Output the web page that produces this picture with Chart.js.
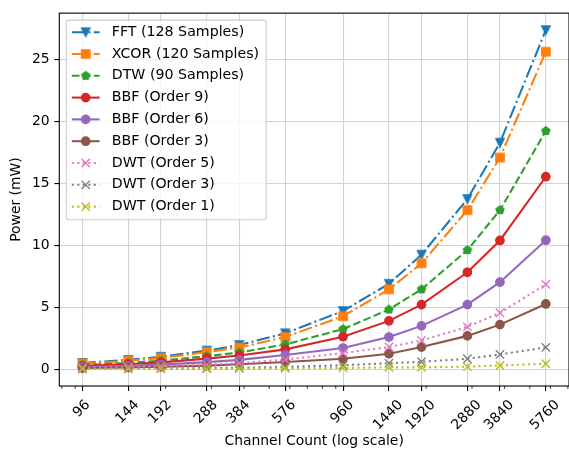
<!DOCTYPE html>
<html>
<head>
<meta charset="utf-8">
<title>Power vs Channel Count</title>
<script src="https://cdn.jsdelivr.net/npm/chart.js@4.4.1/dist/chart.umd.min.js"></script>
<style>
    html, body { margin: 0; padding: 0; background: #fff; overflow: hidden; }
    #powerChart { display: block; width: 569px; height: 454px; }
</style>
</head>
<body>
<canvas id="powerChart" width="569" height="454"></canvas>
<script>
// ==========================================
// Data
// ==========================================
const channels = [96, 144, 192, 288, 384, 576, 960, 1440, 1920, 2880, 3840, 5760];

const fftPower  = [0.50, 0.75, 1.00, 1.50, 1.95, 2.90, 4.70, 6.90, 9.25, 13.75, 18.30, 27.40];
const xcorPower = [0.45, 0.68, 0.90, 1.38, 1.75, 2.60, 4.28, 6.45, 8.55, 12.85, 17.10, 25.65];
const dtwPower  = [0.33, 0.50, 0.68, 1.05, 1.35, 2.00, 3.24, 4.82, 6.45, 9.62, 12.85, 19.25];
const bbf9Power = [0.27, 0.40, 0.55, 0.85, 1.10, 1.60, 2.62, 3.90, 5.22, 7.83, 10.40, 15.55];
const bbf6Power = [0.18, 0.27, 0.37, 0.57, 0.75, 1.15, 1.71, 2.60, 3.50, 5.22, 7.03, 10.42];
const bbf3Power = [0.09, 0.14, 0.19, 0.29, 0.40, 0.58, 0.84, 1.25, 1.79, 2.69, 3.60, 5.27];
const dwt5Power = [0.12, 0.18, 0.24, 0.36, 0.48, 0.78, 1.30, 1.79, 2.32, 3.42, 4.55, 6.85];
const dwt3Power = [0.03, 0.05, 0.06, 0.09, 0.12, 0.18, 0.32, 0.48, 0.60, 0.84, 1.19, 1.76];
const dwt1Power = [0.01, 0.01, 0.02, 0.03, 0.04, 0.06, 0.10, 0.14, 0.15, 0.20, 0.30, 0.44];

const xTickValues = channels;
const xMinorTicks = [80, 90, 200, 300, 400, 500, 600, 700, 800, 900, 2000, 3000, 4000, 5000, 6000, 7000];
const yTickValues = [0, 5, 10, 15, 20, 25];

// ==========================================
// Styles
// ==========================================
const FONT = 'DejaVu Sans';
const FS = 13.9;
const LEG_FS = 14.2;
const LW = 2.08;
const gridColor = '#d2d2d2';
const dashDot = [13.3, 3.3, 2.1, 3.3];
const dashed = [7.7, 3.3];
const dotted = [2.1, 3.4];

// marker drawn on a small canvas (used for shapes chart.js lacks)
function polyMarker(color, pts) {
    const size = 14;
    const c = document.createElement('canvas');
    c.width = size; c.height = size;
    const g = c.getContext('2d');
    g.beginPath();
    pts.forEach((p, k) => k ? g.lineTo(size / 2 + p[0], size / 2 + p[1]) : g.moveTo(size / 2 + p[0], size / 2 + p[1]));
    g.closePath();
    g.fillStyle = color; g.fill();
    g.strokeStyle = color; g.lineWidth = 1.39; g.lineJoin = 'miter'; g.stroke();
    return c;
}
const mr = 4.17;
const triDown = polyMarker('#1f77b4', [[0, mr], [-mr, -mr], [mr, -mr]]);
const square = polyMarker('#ff7f0e', [[-mr, -mr], [mr, -mr], [mr, mr], [-mr, mr]]);
const pentagon = polyMarker('#2ca02c', [0, 1, 2, 3, 4].map(k => {
    const a = -Math.PI / 2 + k * 2 * Math.PI / 5;
    return [mr * Math.cos(a), mr * Math.sin(a)];
}));

const series = [
    { label: 'FFT (128 Samples)',  data: fftPower,  color: '#1f77b4', dash: dashDot, marker: triDown,   radius: 5 },
    { label: 'XCOR (120 Samples)', data: xcorPower, color: '#ff7f0e', dash: dashDot, marker: square,    radius: 5 },
    { label: 'DTW (90 Samples)',   data: dtwPower,  color: '#2ca02c', dash: dashed,  marker: pentagon,  radius: 5 },
    { label: 'BBF (Order 9)',      data: bbf9Power, color: '#d62728', dash: [],      marker: 'circle',  radius: 4.17 },
    { label: 'BBF (Order 6)',      data: bbf6Power, color: '#9467bd', dash: [],      marker: 'circle',  radius: 4.17 },
    { label: 'BBF (Order 3)',      data: bbf3Power, color: '#8c564b', dash: [],      marker: 'circle',  radius: 4.17 },
    { label: 'DWT (Order 5)',      data: dwt5Power, color: '#e377c2', dash: dotted,  marker: 'crossRot', radius: 5.9 },
    { label: 'DWT (Order 3)',      data: dwt3Power, color: '#7f7f7f', dash: dotted,  marker: 'crossRot', radius: 5.9 },
    { label: 'DWT (Order 1)',      data: dwt1Power, color: '#bcbd22', dash: dotted,  marker: 'crossRot', radius: 5.9 }
];

// axis ranges with 5% margins like matplotlib
const logLo = Math.log10(Math.min(...channels));
const logHi = Math.log10(Math.max(...channels));
const xPad = 0.05 * (logHi - logLo);
const xMin = Math.pow(10, logLo - xPad);
const xMax = Math.pow(10, logHi + xPad);

const allVals = series.flatMap(s => s.data);
const yLo = Math.min(...allVals), yHi = Math.max(...allVals);
const yPad = 0.05 * (yHi - yLo);

// ==========================================
// Plugin: spines, minor ticks, centered rotated x labels, legend
// ==========================================
const extrasPlugin = {
    id: 'extras',
    afterDatasetsDraw(chart) {
        const { ctx, chartArea: a } = chart;
        ctx.save();
        ctx.strokeStyle = '#000';
        ctx.lineWidth = 1.1;
        ctx.strokeRect(a.left, a.top, a.right - a.left, a.bottom - a.top);
        ctx.restore();
    },
    afterDraw(chart) {
        const { ctx, chartArea: a } = chart;
        const xs = chart.scales.x;
        ctx.save();

        // minor ticks
        ctx.strokeStyle = '#000';
        ctx.lineWidth = 0.8;
        xMinorTicks.forEach(v => {
            if (v < xMin || v > xMax) return;
            const px = xs.getPixelForValue(v);
            ctx.beginPath();
            ctx.moveTo(px, a.bottom);
            ctx.lineTo(px, a.bottom + 2.8);
            ctx.stroke();
        });

        // x tick labels, rotated 45 and centred on the tick
        ctx.font = FS + 'px "' + FONT + '"';
        ctx.fillStyle = '#000';
        ctx.textAlign = 'center';
        ctx.textBaseline = 'middle';
        const h = 14;
        xTickValues.forEach(v => {
            const label = String(v);
            const w = ctx.measureText(label).width;
            const H = (w + h) * Math.SQRT1_2;
            const px = xs.getPixelForValue(v);
            ctx.save();
            ctx.translate(px - 0.8, a.bottom + 11.8 + H / 2);
            ctx.rotate(-Math.PI / 4);
            ctx.fillText(label, 0, 0);
            ctx.restore();
        });

        // legend
        ctx.font = LEG_FS + 'px "' + FONT + '"';
        const ds = chart.data.datasets;
        const boxL = a.left + 0.5 * FS;
        const boxT = a.top + 0.5 * FS;
        const maxW = Math.max(...ds.map(d => ctx.measureText(d.label).width));
        const rowH = 21.8;
        const textX = boxL + 45.5;
        const boxW = 45.5 + maxW + 7;
        const boxH = (ds.length - 1) * rowH + 25.3;
        ctx.beginPath();
        if (ctx.roundRect) ctx.roundRect(boxL, boxT, boxW, boxH, 2.8);
        else ctx.rect(boxL, boxT, boxW, boxH);
        ctx.fillStyle = 'rgba(255,255,255,0.8)';
        ctx.fill();
        ctx.strokeStyle = '#cccccc';
        ctx.lineWidth = 1.1;
        ctx.stroke();

        ds.forEach((d, i) => {
            const y = boxT + 12.1 + i * rowH;
            const x0 = boxL + 0.4 * FS, x1 = x0 + 2 * FS;
            ctx.setLineDash(d.borderDash || []);
            ctx.strokeStyle = d.borderColor;
            ctx.lineWidth = d.borderWidth;
            ctx.beginPath();
            ctx.moveTo(x0, y);
            ctx.lineTo(x1, y);
            ctx.stroke();
            ctx.setLineDash([]);
            ctx.fillStyle = d.pointBackgroundColor;
            ctx.strokeStyle = d.pointBorderColor;
            ctx.lineWidth = d.pointBorderWidth;
            Chart.helpers.drawPoint(ctx, {
                pointStyle: d.pointStyle, rotation: 0,
                radius: d.pointRadius, borderWidth: d.pointBorderWidth
            }, (x0 + x1) / 2, y);
            ctx.fillStyle = '#000';
            ctx.textAlign = 'left';
            ctx.textBaseline = 'middle';
            ctx.fillText(d.label, textX, y);
        });
        ctx.restore();
    }
};

// ==========================================
// Chart
// ==========================================
Chart.defaults.font.family = FONT;
Chart.defaults.font.size = FS;
Chart.defaults.color = '#000';

new Chart(document.getElementById('powerChart'), {
    type: 'line',
    data: {
        datasets: series.map((s, i) => ({
            label: s.label,
            data: channels.map((c, k) => ({ x: c, y: s.data[k] })),
            borderColor: s.color,
            backgroundColor: s.color,
            borderWidth: LW,
            borderDash: s.dash,
            pointStyle: s.marker,
            pointRadius: s.radius,
            pointBackgroundColor: s.color,
            pointBorderColor: s.color,
            pointBorderWidth: 1.39,
            fill: false,
            tension: 0,
            order: series.length - 1 - i
        }))
    },
    options: {
        responsive: false,
        devicePixelRatio: 1,
        animation: false,
        events: [],
        // plot area runs just past the right edge of the picture
        layout: { autoPadding: false, padding: { top: 4.3, right: -1.6, bottom: 0, left: 0 } },
        plugins: { legend: { display: false }, tooltip: { enabled: false } },
        scales: {
            x: {
                type: 'logarithmic',
                min: xMin,
                max: xMax,
                afterBuildTicks: s => { s.ticks = xTickValues.map(v => ({ value: v })); },
                afterFit: s => { s.height = 68; },
                ticks: { display: false },
                grid: { color: gridColor, lineWidth: 1.1, tickColor: '#000', tickLength: 4.9, tickWidth: 1.1 },
                border: { display: false },
                title: { display: true, text: 'Channel Count (log scale)', color: '#000',
                         font: { family: FONT, size: FS }, padding: { top: 0, bottom: 4.5 } }
            },
            y: {
                min: yLo - yPad,
                max: yHi + yPad,
                afterBuildTicks: s => { s.ticks = yTickValues.map(v => ({ value: v })); },
                afterFit: s => { s.width = 59.3; },
                ticks: { color: '#000', padding: 4.8, font: { family: FONT, size: FS } },
                grid: { color: gridColor, lineWidth: 1.1, tickColor: '#000', tickLength: 4.9, tickWidth: 1.1 },
                border: { display: false },
                title: { display: true, text: 'Power (mW)', color: '#000',
                         font: { family: FONT, size: FS }, padding: { top: 8, bottom: 0 } }
            }
        }
    },
    plugins: [extrasPlugin]
});
</script>
</body>
</html>
